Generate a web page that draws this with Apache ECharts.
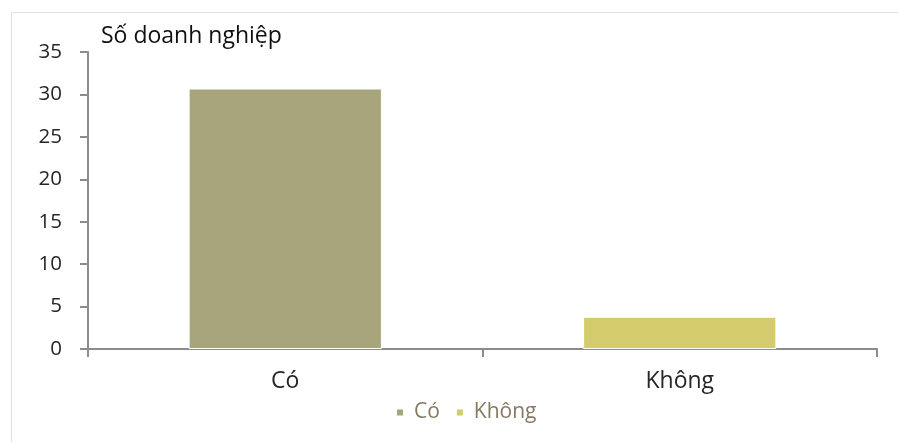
<!DOCTYPE html>
<html>
<head>
<meta charset="utf-8">
<script src="https://cdn.jsdelivr.net/npm/echarts@6/dist/echarts.min.js"></script>
<style>
  html, body { margin: 0; padding: 0; background: #fff; }
  #chart { width: 898px; height: 442px; }
</style>
</head>
<body>
<div id="chart"></div>
<script>
// Survey answer categories and enterprise counts
const categories = ['Có', 'Không'];
const seriesNames = ['Có', 'Không'];
const values = [30.7, 3.8];
const colors = ['#a8a57c', '#d3cb6c'];
const yTicks = [0, 5, 10, 15, 20, 25, 30, 35];

const FONT = '"Open Sans", "Noto Sans", sans-serif';
const chart = echarts.init(document.getElementById('chart'), null, { renderer: 'canvas' });

// one series per category so each answer gets its own legend entry
const series = seriesNames.map((name, i) => ({
  name: name,
  type: 'bar',
  stack: 'all',
  barWidth: '49%',
  itemStyle: { color: colors[i], borderColor: '#ffffff', borderWidth: 1 },
  data: categories.map((c, j) => (j === i ? values[i] : '-'))
}));

chart.setOption({
  animation: false,
  graphic: [{
    type: 'rect',
    shape: { x: 11.5, y: 12.5, width: 900, height: 440 },
    style: { fill: 'none', stroke: '#e4e2d6', lineWidth: 1 },
    silent: true
  }, {
    type: 'text',
    left: 101,
    top: 25,
    style: { text: 'Số doanh nghiệp', font: '23px ' + FONT, fill: '#111111' }
  }],
  grid: { left: 88, right: 21, top: 52, bottom: 93, containLabel: false },
  legend: {
    left: 390,
    top: 397,
    itemWidth: 8,
    itemHeight: 8,
    itemGap: 15,
    icon: 'rect',
    textStyle: { fontFamily: FONT, fontSize: 21, color: '#857a62', padding: [0, 0, 0, 5] },
    data: seriesNames
  },
  xAxis: {
    type: 'category',
    data: categories,
    axisLine: { lineStyle: { color: '#8c8c8c', width: 2 } },
    axisTick: { show: true, length: 8, lineStyle: { color: '#8c8c8c', width: 2 } },
    axisLabel: { fontFamily: FONT, fontSize: 23, color: '#262626', margin: 21 },
    splitLine: { show: false }
  },
  yAxis: {
    type: 'value',
    min: yTicks[0],
    max: yTicks[yTicks.length - 1],
    interval: yTicks[1] - yTicks[0],
    axisLine: { show: true, lineStyle: { color: '#8c8c8c', width: 2 } },
    axisTick: { show: true, length: 8, lineStyle: { color: '#8c8c8c', width: 2 } },
    axisLabel: { fontFamily: FONT, fontSize: 20.5, color: '#262626', margin: 26 },
    splitLine: { show: false }
  },
  series: series
});
</script>
</body>
</html>
